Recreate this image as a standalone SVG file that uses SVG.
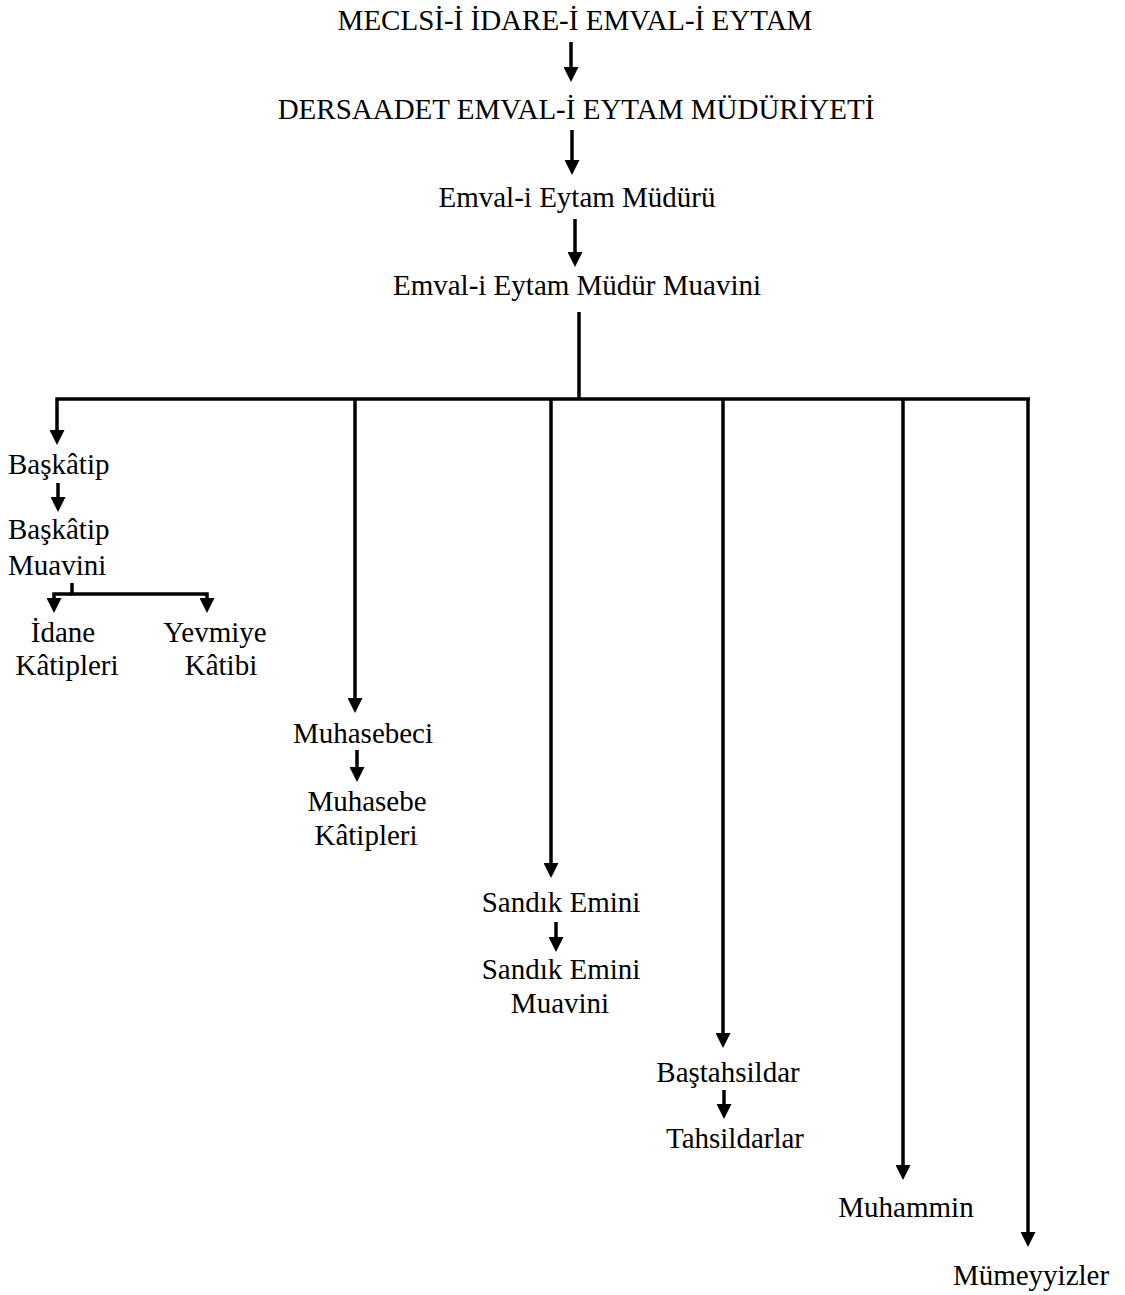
<svg xmlns="http://www.w3.org/2000/svg" width="1125" height="1295" viewBox="0 0 1125 1295">
<style>
text{font-family:"Liberation Serif","Times New Roman",serif;font-size:29px;fill:#000;text-anchor:middle}
.l{text-anchor:start}
.c{fill:none;stroke:#000;stroke-width:3.5}
.a{marker-end:url(#ah)}
</style>
<defs>
<marker id="ah" markerUnits="userSpaceOnUse" markerWidth="15" markerHeight="15" viewBox="0 0 15 15" refX="3" refY="7.5" orient="auto">
<path d="M0,0 L15,7.5 L0,15 z" fill="#000"/>
</marker>
</defs>
<rect width="1125" height="1295" fill="#fff"/>
<g id="connectors">
<line class="c a" x1="571" y1="42" x2="571" y2="70"/>
<line class="c a" x1="572" y1="130" x2="572" y2="163"/>
<line class="c a" x1="575" y1="219" x2="575" y2="255"/>
<line class="c" x1="579" y1="312" x2="579" y2="399"/>
<path class="c a" d="M1030,399 H57 V433"/>
<line class="c a" x1="355" y1="399" x2="355" y2="701"/>
<line class="c a" x1="551" y1="399" x2="551" y2="866"/>
<line class="c a" x1="723" y1="399" x2="723" y2="1036"/>
<line class="c a" x1="903" y1="399" x2="903" y2="1168"/>
<line class="c a" x1="1028" y1="399" x2="1028" y2="1235"/>
<line class="c a" x1="58" y1="483" x2="58" y2="500"/>
<path class="c a" d="M72,583 V594 H207 V601"/>
<path class="c a" d="M72,594 H54 V601"/>
<line class="c a" x1="357" y1="750" x2="357" y2="770"/>
<line class="c a" x1="556" y1="922" x2="556" y2="940"/>
<line class="c a" x1="724" y1="1090" x2="724" y2="1107"/>
</g>
<g id="n-meclis"><text x="575" y="30">MECLSİ-İ İDARE-İ EMVAL-İ EYTAM</text></g>
<g id="n-dersaadet"><text x="576" y="119">DERSAADET EMVAL-İ EYTAM MÜDÜRİYETİ</text></g>
<g id="n-mudur"><text x="577" y="207">Emval-i Eytam Müdürü</text></g>
<g id="n-muavin"><text x="577" y="295">Emval-i Eytam Müdür Muavini</text></g>
<g id="n-baskatip"><text class="l" x="8" y="474">Başkâtip</text></g>
<g id="n-baskatip-muavini"><text class="l" x="8" y="539">Başkâtip</text><text class="l" x="8" y="575">Muavini</text></g>
<g id="n-idane"><text x="63" y="642">İdane</text><text x="67" y="675">Kâtipleri</text></g>
<g id="n-yevmiye"><text x="215" y="642">Yevmiye</text><text x="221" y="675">Kâtibi</text></g>
<g id="n-muhasebeci"><text x="363" y="743">Muhasebeci</text></g>
<g id="n-muhasebe-katipleri"><text x="367" y="811">Muhasebe</text><text x="366" y="845">Kâtipleri</text></g>
<g id="n-sandik"><text x="561" y="912">Sandık Emini</text></g>
<g id="n-sandik-muavini"><text x="561" y="979">Sandık Emini</text><text x="560" y="1013">Muavini</text></g>
<g id="n-bastahsildar"><text x="728" y="1082">Baştahsildar</text></g>
<g id="n-tahsildarlar"><text x="735" y="1148">Tahsildarlar</text></g>
<g id="n-muhammin"><text x="906" y="1217">Muhammin</text></g>
<g id="n-mumeyyizler"><text x="1031" y="1285">Mümeyyizler</text></g>
</svg>
